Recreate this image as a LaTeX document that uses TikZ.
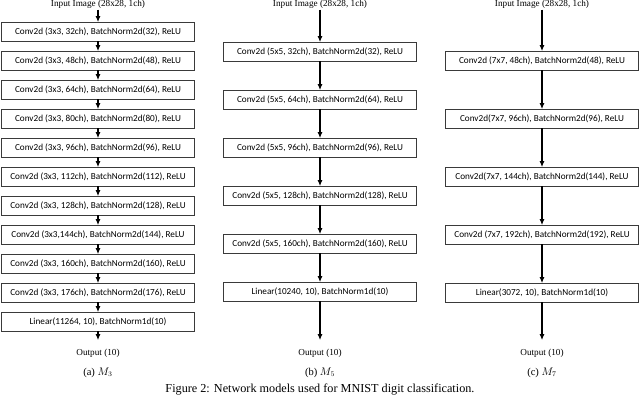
\documentclass[tikz,border=0pt]{standalone}
\usepackage{fontspec}
\setmainfont{Liberation Serif}
\newfontfamily\boxfont{Carlito}
\usepackage{tikz}
\usetikzlibrary{arrows.meta, positioning}
\definecolor{boxline}{HTML}{3A3A3A}

\begin{document}
\begin{tikzpicture}[
  x=1pt, y=1pt, outer sep=0pt,
  layer/.style={rectangle, draw=boxline, line width=0.8pt, fill=white,
                minimum width=193pt, minimum height=19pt, inner sep=0pt,
                font=\boxfont\fontsize{9.2}{10}\selectfont},
  io/.style={inner sep=1pt, font=\fontsize{9.2}{10}\selectfont},
  sub/.style={inner sep=1pt, font=\fontsize{10.5}{12}\selectfont},
  arrow/.style={-{Latex[length=6pt, width=5pt]}, line width=1.3pt}
]
  \useasboundingbox[fill=white] (0,0) rectangle (640,-399);

  % (a) M3
  \begin{scope}[node distance=10pt]
    \node[io] (inA) at (98,-4.5) {Input Image (28x28, 1ch)};
    \node[layer, below=12.5pt of inA] (a1) {Conv2d (3x3, 32ch), BatchNorm2d(32), ReLU};
    \node[layer, below=of a1] (a2) {Conv2d (3x3, 48ch), BatchNorm2d(48), ReLU};
    \node[layer, below=of a2] (a3) {Conv2d (3x3, 64ch), BatchNorm2d(64), ReLU};
    \node[layer, below=of a3] (a4) {Conv2d (3x3, 80ch), BatchNorm2d(80), ReLU};
    \node[layer, below=of a4] (a5) {Conv2d (3x3, 96ch), BatchNorm2d(96), ReLU};
    \node[layer, below=of a5] (a6) {Conv2d (3x3, 112ch), BatchNorm2d(112), ReLU};
    \node[layer, below=of a6] (a7) {Conv2d (3x3, 128ch), BatchNorm2d(128), ReLU};
    \node[layer, below=of a7] (a8) {Conv2d (3x3,144ch), BatchNorm2d(144), ReLU};
    \node[layer, below=of a8] (a9) {Conv2d (3x3, 160ch), BatchNorm2d(160), ReLU};
    \node[layer, below=of a9] (a10) {Conv2d (3x3, 176ch), BatchNorm2d(176), ReLU};
    \node[layer, below=of a10] (a11) {Linear(11264, 10), BatchNorm1d(10)};
    \node[io, below=17pt of a11] (outA) {Output (10)};
    \node[sub, below=8pt of outA] (capA) {(a) $M_3$};

    \draw[arrow] (inA) -- (a1);
    \foreach \i/\j in {1/2, 2/3, 3/4, 4/5, 5/6, 6/7, 7/8, 8/9, 9/10, 10/11}
      \draw[arrow] (a\i) -- (a\j);
    \draw[arrow] (a11) -- ([yshift=8pt]outA.north);
  \end{scope}

  % (b) M5
  \begin{scope}[node distance=29pt]
    \node[io] (inB) at (320,-4.5) {Input Image (28x28, 1ch)};
    \node[layer, below=32.5pt of inB] (b1) {Conv2d (5x5, 32ch), BatchNorm2d(32), ReLU};
    \node[layer, below=of b1] (b2) {Conv2d (5x5, 64ch), BatchNorm2d(64), ReLU};
    \node[layer, below=of b2] (b3) {Conv2d (5x5, 96ch), BatchNorm2d(96), ReLU};
    \node[layer, below=of b3] (b4) {Conv2d (5x5, 128ch), BatchNorm2d(128), ReLU};
    \node[layer, below=of b4] (b5) {Conv2d (5x5, 160ch), BatchNorm2d(160), ReLU};
    \node[layer, below=of b5] (b6) {Linear(10240, 10), BatchNorm1d(10)};
    \node[io, below=47pt of b6] (outB) {Output (10)};
    \node[sub, below=8pt of outB] (capB) {(b) $M_5$};

    \draw[arrow] (inB) -- (b1);
    \foreach \i/\j in {1/2, 2/3, 3/4, 4/5, 5/6}
      \draw[arrow] (b\i) -- (b\j);
    \draw[arrow] (b6) -- ([yshift=8pt]outB.north);
  \end{scope}

  % (c) M7
  \begin{scope}[node distance=39pt]
    \node[io] (inC) at (542,-4.5) {Input Image (28x28, 1ch)};
    \node[layer, below=41.5pt of inC] (c1) {Conv2d (7x7, 48ch), BatchNorm2d(48), ReLU};
    \node[layer, below=of c1] (c2) {Conv2d(7x7, 96ch), BatchNorm2d(96), ReLU};
    \node[layer, below=of c2] (c3) {Conv2d(7x7, 144ch), BatchNorm2d(144), ReLU};
    \node[layer, below=of c3] (c4) {Conv2d (7x7, 192ch), BatchNorm2d(192), ReLU};
    \node[layer, below=of c4] (c5) {Linear(3072, 10), BatchNorm1d(10)};
    \node[io, below=46pt of c5] (outC) {Output (10)};
    \node[sub, below=8pt of outC] (capC) {(c) $M_7$};

    \draw[arrow] (inC) -- (c1);
    \foreach \i/\j in {1/2, 2/3, 3/4, 4/5}
      \draw[arrow] (c\i) -- (c\j);
    \draw[arrow] (c5) -- ([yshift=8pt]outC.north);
  \end{scope}

  \node[sub, font=\fontsize{12.2}{14}\selectfont] (fig) at (320,-390)
    {Figure 2: Network models used for MNIST digit classification.};
\end{tikzpicture}
\end{document}
